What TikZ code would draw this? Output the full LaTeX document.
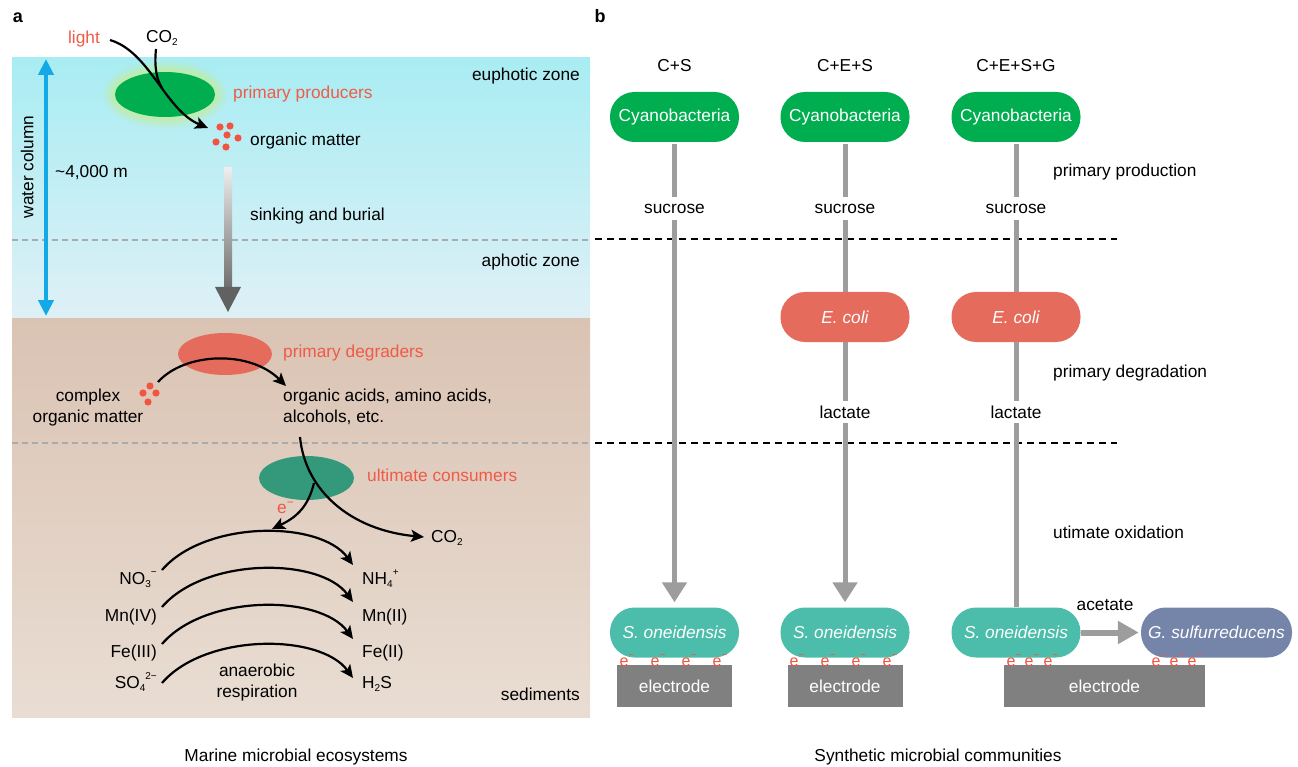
\documentclass[tikz,border=0pt]{standalone}
\usepackage{fontspec}
\setmainfont{Liberation Sans}
\usetikzlibrary{arrows.meta,shapes.geometric}
\definecolor{cyanG}{HTML}{00AE4F}
\definecolor{ecoliC}{HTML}{E56C5D}
\definecolor{shewC}{HTML}{4BBDAA}
\definecolor{geoC}{HTML}{7585A9}
\definecolor{elecC}{HTML}{808080}
\definecolor{lblC}{HTML}{F15A46}
\definecolor{flowC}{HTML}{9D9D9D}
\definecolor{consC}{HTML}{33997A}
\definecolor{bluC}{HTML}{13A8E6}
\definecolor{glowC}{HTML}{C8EC8C}
\definecolor{dotC}{HTML}{F2543F}
\definecolor{waterTop}{HTML}{A8EDF3}
\definecolor{waterBot}{HTML}{DEF0F6}
\definecolor{sedTop}{HTML}{DAC3B3}
\definecolor{sedBot}{HTML}{E9DDD3}
\newcommand{\mysub}[1]{\raisebox{-0.35ex}{\fontsize{10}{10}\selectfont #1}}
\newcommand{\mysup}[1]{\raisebox{0.95ex}{\fontsize{10}{10}\selectfont #1}}
\newcommand{\myminus}{\raisebox{1.0ex}{\fontsize{10}{10}\selectfont −}}
\newcommand{\bigminus}{\raisebox{0.7ex}{\fontsize{12}{12}\selectfont −}}
\begin{document}
\begin{tikzpicture}[x=1pt,y=-1pt,
  every node/.style={font=\fontsize{17.3}{20}\selectfont},
  txt/.style={inner sep=0pt, text height=12.4pt, text depth=3.6pt},
  gaplbl/.style={inner sep=0pt, minimum height=22pt},
  pill/.style={rounded corners=24.5pt, minimum width=129pt, minimum height=50pt, inner sep=0pt, text=white},
  flowline/.style={draw=flowC, line width=5pt},
  flowarrow/.style={flowline, -{Triangle[width=24pt,length=20pt]}},
  blk/.style={draw=black, line width=2.2pt, -{Stealth[length=13pt,width=12pt,inset=3pt]}},
  blkline/.style={draw=black, line width=2.2pt},
  elab/.style={text=dotC, inner sep=0pt, font=\fontsize{16}{16}\selectfont},
  electrode/.style={fill=elecC, minimum height=42pt, inner sep=0pt, text=white},
  graydash/.style={draw=black!33, line width=2pt, dash pattern=on 6pt off 4pt},
  blackdash/.style={draw=black, line width=2.4pt, dash pattern=on 7pt off 5pt},
  blob/.style={ellipse, inner sep=0pt}
]
\useasboundingbox (0,0) rectangle (1298,767);
% ---------------- panel a backgrounds
\shade[top color=waterTop, bottom color=waterBot] (12,58) rectangle (590,318);
\shade[top color=sedTop, bottom color=sedBot] (12,318) rectangle (590,717);
\draw[graydash] (12,240) -- (590,240);
\draw[graydash] (12,443) -- (590,443);
% panel labels
\node[font=\fontsize{18}{20}\selectfont\bfseries, txt] (la) at (18,18) {a};
\node[font=\fontsize{18}{20}\selectfont\bfseries, txt] (lb) at (600,18) {b};
% water column arrow
\coordinate (wcT) at (46,59);
\coordinate (wcB) at (46,316);
\draw[bluC, line width=4pt, {Triangle[width=15pt,length=16pt]}-{Triangle[width=15pt,length=16pt]}] (wcT) -- (wcB);
\node[txt, rotate=90] (wc) at (29,167) {water column};
\node[txt, anchor=west] (depth) at (55,173) {\textasciitilde 4,000 m};
% primary producers
\foreach \r/\o in {12/0.12,9/0.18,6/0.25,3/0.35}
  \fill[glowC, opacity=\o] (165,94.5) ellipse ({50+\r} and {22.5+\r});
\node[blob, fill=cyanG, minimum width=100pt, minimum height=45pt] (prod) at (165,94.5) {};
\node[txt, text=lblC] (light) at (84,39) {light};
\node[txt, anchor=west] (co2a) at (146,38) {CO\mysub{2}};
\node[txt, anchor=west, text=lblC] (pp) at (233,94) {primary producers};
\coordinate (lightS) at (110,40);
\coordinate (omT) at (208,128);
\coordinate (co2S) at (156,49);
\coordinate (co2J) at (162,88);
\draw[blkline] (co2S) .. controls (154,68) and (157,80) .. (co2J);
\draw[blk] (lightS) .. controls (150,52) and (165,110) .. (omT);
\foreach \p in {(220,127),(230,126),(227,135),(216,142),(238,138),(226,147)}
  \fill[dotC] \p circle (3.6pt);
\node[txt, anchor=west] (om) at (250,141) {organic matter};
\node[txt, anchor=east] (euph) at (580,76) {euphotic zone};
% sinking arrow
\shade[top color=black!7, bottom color=black!58] (224,168) rectangle (232,290);
\fill[black!62] (215,287) -- (241,287) -- (228,312) -- cycle;
\node[txt, anchor=west] (sink) at (250,216) {sinking and burial};
\node[txt, anchor=east] (aph) at (580,262) {aphotic zone};
% primary degraders
\node[blob, fill=ecoliC, minimum width=94pt, minimum height=42pt] (degr) at (225,354) {};
\node[txt, anchor=west, text=lblC] (pdl) at (283,353) {primary degraders};
\foreach \p in {(150,386),(143,393),(156,393),(148,402)}
  \fill[dotC] \p circle (3.6pt);
\coordinate (cmS) at (158,382);
\coordinate (oaT) at (286,386);
\draw[blk] (cmS) .. controls (185,352) and (250,350) .. (oaT);
\node[txt] (cx1) at (88,397) {complex};
\node[txt] (cx2) at (88,418) {organic matter};
\node[txt, anchor=west] (oa1) at (283,397) {organic acids, amino acids,};
\node[txt, anchor=west] (oa2) at (283,418) {alcohols, etc.};
% ultimate consumers
\node[blob, fill=consC, minimum width=95pt, minimum height=44pt] (cons) at (306.5,478) {};
\node[txt, anchor=west, text=lblC] (ucl) at (367,477) {ultimate consumers};
\coordinate (ucS) at (300,437);
\coordinate (co2T) at (424,537);
\draw[blk] (ucS) .. controls (305,490) and (350,530) .. (co2T);
\node[txt, anchor=west] (co2b) at (431,538) {CO\mysub{2}};
\coordinate (eS) at (314,483);
\coordinate (eT) at (272,529);
\draw[blk] (eS) .. controls (308,508) and (295,518) .. (eT);
\node[inner sep=0pt, text=lblC, anchor=west] (eml) at (277,508) {e\bigminus};
% anaerobic respiration arcs
\foreach \dy [count=\i] in {0,37,74,113}{
  \coordinate (arS\i) at (162,570+\dy);
  \coordinate (arT\i) at (353,565+\dy);
  \draw[blk] (arS\i) .. controls (205,520+\dy) and (320,520+\dy) .. (arT\i);
}
\node[txt, anchor=east] (no3) at (157,580) {NO\mysub{3}\myminus};
\node[txt, anchor=east] (mn4) at (157,617) {Mn(IV)};
\node[txt, anchor=east] (fe3) at (157,653) {Fe(III)};
\node[txt, anchor=east] (so4) at (157,684) {SO\mysub{4}\mysup{2−}};
\node[txt, anchor=west] (nh4) at (362,580) {NH\mysub{4}\mysup{+}};
\node[txt, anchor=west] (mn2) at (362,617) {Mn(II)};
\node[txt, anchor=west] (fe2) at (362,653) {Fe(II)};
\node[txt, anchor=west] (h2s) at (362,684) {H\mysub{2}S};
\node[txt] (an1) at (257,672) {anaerobic};
\node[txt] (an2) at (257,693) {respiration};
\node[txt, anchor=east] (sed) at (580,696) {sediments};
\node[txt] (capa) at (296,757) {Marine microbial ecosystems};
% ---------------- panel b
\draw[blackdash] (595,239) -- (1117,239);
\draw[blackdash] (595,443) -- (1117,443);
\node[txt] (h1) at (674.5,67) {C+S};
\node[txt] (h2) at (845,67) {C+E+S};
\node[txt] (h3) at (1016,67) {C+E+S+G};
\foreach \c/\x in {1/674.5,2/845,3/1016}{
  \node[pill, fill=cyanG] (cy\c) at (\x,117) {Cyanobacteria};
  \node[gaplbl] (suc\c) at (\x,208.5) {sucrose};
  \node[pill, fill=shewC] (so\c) at (\x,632.5) {\itshape S. oneidensis};
}
\foreach \c/\x in {2/845,3/1016}{
  \node[pill, fill=ecoliC] (ec\c) at (\x,317) {\itshape E. coli};
  \node[gaplbl] (lac\c) at (\x,412) {lactate};
}
\node[pill, fill=geoC, minimum width=151pt] (geo) at (1216.5,632.5) {\itshape G. sulfurreducens};
% flows
\foreach \c in {1,2,3}
  \draw[flowline, shorten <=2pt] (cy\c.south) -- (suc\c.north);
\draw[flowarrow, shorten >=5pt] (suc1.south) -- (so1.north);
\foreach \c in {2,3}{
  \draw[flowline] (suc\c.south) -- (ec\c.north);
  \draw[flowline] (ec\c.south) -- (lac\c.north);
}
\draw[flowarrow, shorten >=5pt] (lac2.south) -- (so2.north);
\draw[flowline] (lac3.south) -- (so3.north);
\draw[draw=flowC, line width=6pt, -{Triangle[width=22pt,length=21pt]}, shorten >=2pt] (so3.east) -- (geo.west);
\node[txt] (acet) at (1105,606) {acetate};
% stage labels
\node[txt, anchor=west] (st1) at (1053,172) {primary production};
\node[txt, anchor=west] (st2) at (1053,373) {primary degradation};
\node[txt, anchor=west] (st3) at (1053,534) {utimate oxidation};
% electrodes
\node[electrode, minimum width=115pt] (el1) at (674.5,686) {electrode};
\node[electrode, minimum width=115pt] (el2) at (845,686) {electrode};
\node[electrode, minimum width=201pt] (el3) at (1104.5,686) {electrode};
\foreach \x [count=\i] in {627,658,689,720}
  \node[elab] (ea\i) at (\x,661) {e\myminus};
\foreach \x [count=\i] in {797,828,859,890}
  \node[elab] (eb\i) at (\x,661) {e\myminus};
\foreach \x [count=\i] in {1014,1032,1051,1159,1177,1195}
  \node[elab] (ec\i x) at (\x,661) {e\myminus};
\node[txt] (capb) at (938,757) {Synthetic microbial communities};
\end{tikzpicture}
\end{document}
